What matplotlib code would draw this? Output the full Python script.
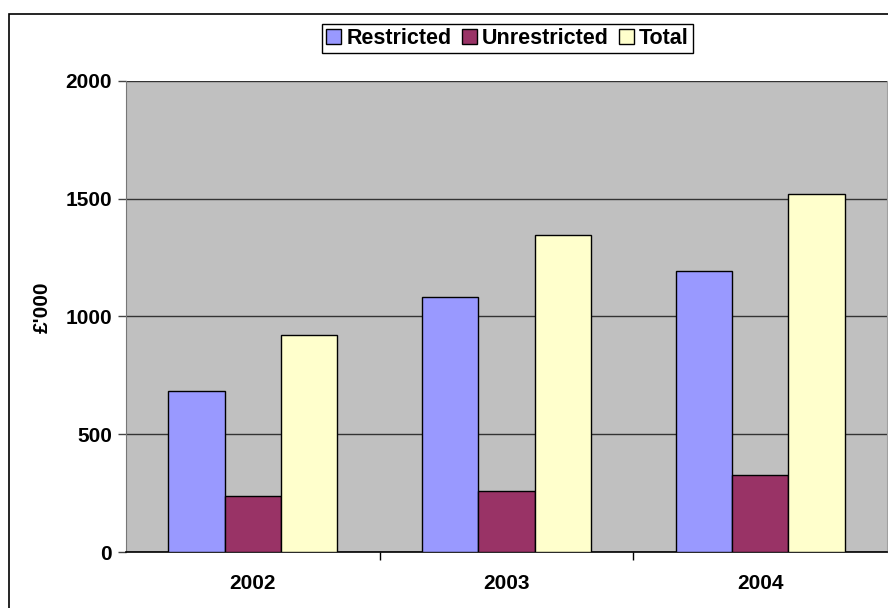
import numpy as np
import matplotlib.pyplot as plt
from matplotlib.patches import Rectangle

years = ["2002", "2003", "2004"]
restricted = [682, 1081, 1192]
unrestricted = [236, 260, 326]
total = [920, 1344, 1519]

series = ["Restricted", "Unrestricted", "Total"]
colors = ["#9999FF", "#993366", "#FFFFCC"]

plt.rcParams['font.family'] = ['Liberation Sans', 'DejaVu Sans']
plt.rcParams['font.weight'] = 'bold'

W, H = 888, 608
fig = plt.figure(figsize=(W / 100, H / 100), dpi=100)

# рамка вокруг всей диаграммы
fig.patches.append(Rectangle((9 / W, -0.1), 1.2, 1 - 14 / H + 0.1,
                             transform=fig.transFigure, fill=False,
                             edgecolor="black", linewidth=1.2))

left, right, top, bottom = 126, 887, 80.7, 552
ax = fig.add_axes([left / W, 1 - bottom / H, (right - left) / W, (bottom - top) / H])
ax.set_facecolor("#C0C0C0")

x = np.arange(len(years))
bw = 2 / 9
for i, (vals, c, name) in enumerate(zip([restricted, unrestricted, total], colors, series)):
    ax.bar(x + (i - 1) * bw, vals, width=bw, color=c, edgecolor="black",
           linewidth=1, label=name, zorder=3)

ax.set_xlim(-0.5, 2.5)
ax.set_ylim(0, 2000)
ax.set_yticks([0, 500, 1000, 1500, 2000])
ax.yaxis.grid(True, color="#333333", linewidth=1, zorder=1)
ax.set_axisbelow(True)

ax.set_xticks(x)
ax.set_xticklabels(years, fontsize=15, fontweight="bold")
ax.set_xticks([0.5, 1.5], minor=True)
ax.tick_params(axis="x", which="major", length=0, pad=16)
ax.tick_params(axis="x", which="minor", length=6, width=1, direction="out", color="black")
ax.tick_params(axis="y", length=6, width=1, direction="out", color="#444444",
               labelsize=15, pad=4)
for lab in ax.get_yticklabels():
    lab.set_fontweight("bold")

ax.spines["top"].set_visible(False)
ax.spines["right"].set_color("#A0A0A0")
ax.spines["left"].set_color("#777777")
ax.spines["bottom"].set_color("black")
ax.spines["bottom"].set_linewidth(1.2)

fig.text(42 / W, 1 - 307 / H, "£'000", rotation=90, ha="center", va="center",
         fontsize=15, fontweight="bold")

leg = fig.legend(loc="center", bbox_to_anchor=(507.5 / W, 1 - 38.5 / H), ncol=3,
                 fontsize=15.5, frameon=True, fancybox=False, edgecolor="black",
                 framealpha=1, handlelength=0.7, handleheight=0.7,
                 handletextpad=0.25, columnspacing=0.45, borderpad=0.2,
                 borderaxespad=0)
leg.get_frame().set_linewidth(1)
for t in leg.get_texts():
    t.set_fontweight("bold")

fig.savefig("out.png", dpi=100)
